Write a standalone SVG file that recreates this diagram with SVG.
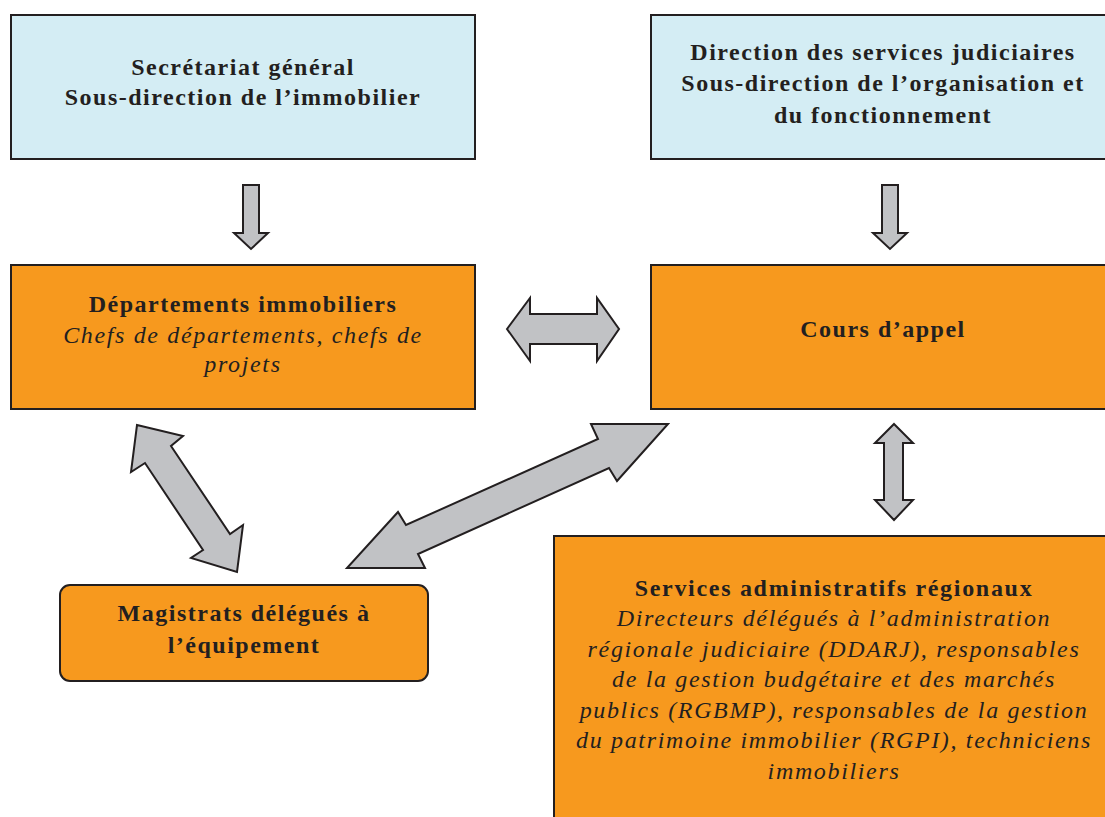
<svg xmlns="http://www.w3.org/2000/svg" width="1105" height="817" viewBox="0 0 1105 817">
<style>
.blue{fill:#d4edf4;stroke:#231f20;stroke-width:2}
.orange{fill:#f7991e;stroke:#231f20;stroke-width:2}
.arrow{fill:#c1c2c5;stroke:#231f20;stroke-width:2;stroke-linejoin:miter}
text{font-family:"Liberation Serif","Times New Roman",serif;font-size:24px;fill:#231f20;text-anchor:middle}
.b{font-weight:bold;letter-spacing:1.5px}
.i{font-style:italic;letter-spacing:1.65px}
</style>
<rect width="1105" height="817" fill="#ffffff"/>
<g id="sg">
<rect class="blue" x="11" y="15" width="464" height="144"/>
<text class="b" x="243" y="75">Secrétariat général</text>
<text class="b" x="243" y="105">Sous-direction de l’immobilier</text>
</g>
<g id="dsj">
<rect class="blue" x="651" y="15" width="460" height="144"/>
<text class="b" x="883" y="60">Direction des services judiciaires</text>
<text class="b" x="883" y="91">Sous-direction de l’organisation et</text>
<text class="b" x="883" y="123">du fonctionnement</text>
</g>
<g id="di">
<rect class="orange" x="11" y="265" width="464" height="144"/>
<text class="b" x="243" y="312">Départements immobiliers</text>
<text class="i" x="243" y="343">Chefs de départements, chefs de</text>
<text class="i" x="243" y="372">projets</text>
</g>
<g id="ca">
<rect class="orange" x="651" y="265" width="460" height="144"/>
<text class="b" x="883" y="337">Cours d’appel</text>
</g>
<g id="mde">
<rect class="orange" x="60" y="585" width="368" height="96" rx="10"/>
<text class="b" x="244" y="621">Magistrats délégués à</text>
<text class="b" x="244" y="653">l’équipement</text>
</g>
<g id="sar">
<rect class="orange" x="554" y="536" width="570" height="290"/>
<text class="b" x="834" y="596" style="letter-spacing:1.7px">Services administratifs régionaux</text>
<text class="i" x="834" y="626">Directeurs délégués à l’administration</text>
<text class="i" x="834" y="657">régionale judiciaire (DDARJ), responsables</text>
<text class="i" x="834" y="687">de la gestion budgétaire et des marchés</text>
<text class="i" x="834" y="718">publics (RGBMP), responsables de la gestion</text>
<text class="i" x="834" y="748">du patrimoine immobilier (RGPI), techniciens</text>
<text class="i" x="834" y="779">immobiliers</text>
</g>
<g id="connectors">
<polygon class="arrow" points="243,185 259,185 259,233 268,233 251,249 234,233 243,233"/>
<polygon class="arrow" points="882,185 898,185 898,233 907,233 890,249 873,233 882,233"/>
<polygon class="arrow" points="507,329 530,298 530,314 597,314 597,298 619,329 597,361 597,344 530,344 530,361"/>
<polygon class="arrow" points="894,424 913,443 903,443 903,500 913,500 894,520 875,500 884,500 884,443 875,443"/>
<polygon class="arrow" points="137,425 183,436 171,446 230,534 243,525 237,572 191,558 203,550 145,463 131,472"/>
<polygon class="arrow" points="668,424 591,424 598,439 406,525 398,512 347,568 425,568 418,554 609,468 617,481"/>
</g>
</svg>
